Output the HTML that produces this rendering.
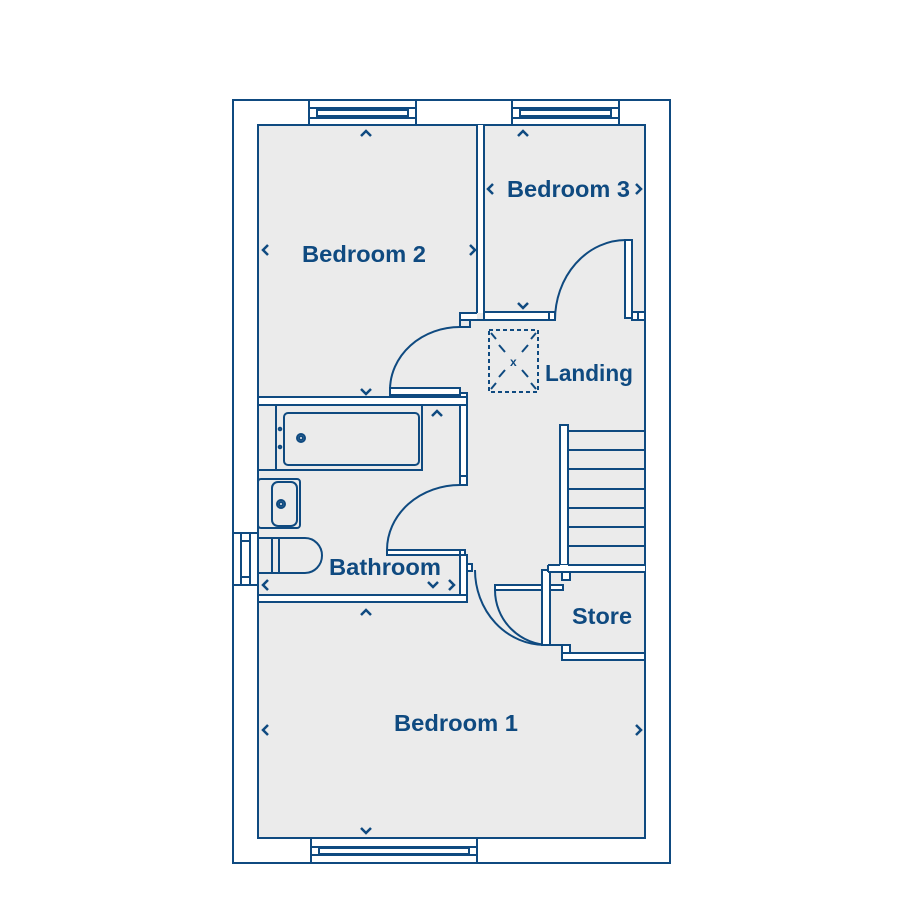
<!DOCTYPE html>
<html><head><style>
html,body{margin:0;padding:0;background:#fff;}
svg{display:block;}
text{font-family:"Liberation Sans",sans-serif;font-weight:bold;fill:#0f4a80;}
</style></head><body>
<svg width="900" height="900" viewBox="0 0 900 900">
<g stroke="#0f4a80" stroke-width="2" fill="none">
<rect x="233" y="100" width="437" height="763" fill="#fff"/>
<rect x="258" y="125" width="387" height="713" fill="#ebebeb"/>
<rect x="309" y="100" width="107" height="25" fill="#fff"/>
<rect x="309" y="108" width="107" height="10"/>
<rect x="317" y="110" width="91" height="6"/>
<rect x="512" y="100" width="107" height="25" fill="#fff"/>
<rect x="512" y="108" width="107" height="10"/>
<rect x="520" y="110" width="91" height="6"/>
<rect x="311" y="838" width="166" height="25" fill="#fff"/>
<rect x="311" y="847" width="166" height="8"/>
<rect x="319" y="848" width="150" height="6"/>
<rect x="233" y="533" width="25" height="52" fill="#fff"/>
<rect x="241" y="533" width="9" height="52"/>
<line x1="241" y1="541" x2="250" y2="541"/><line x1="241" y1="577" x2="250" y2="577"/>
<!-- bed2/bed3 wall -->
<rect x="477" y="125" width="7" height="188" fill="#fff" stroke="none"/>
<line x1="477" y1="125" x2="477" y2="313"/><line x1="484" y1="125" x2="484" y2="312"/>
<rect x="460" y="313" width="17" height="7" fill="#fff" stroke="none"/>
<path d="M477 313 H460 V327 H470 V320 H484"/>
<line x1="460" y1="320" x2="470" y2="320"/>
<rect x="484" y="312" width="71" height="8" fill="#fff"/>
<line x1="549" y1="312" x2="549" y2="320"/>
<path d="M555 320 A71 80 0 0 1 626 240"/>
<rect x="625" y="240" width="7" height="78" fill="#fff"/>
<rect x="632" y="312" width="13" height="8" fill="#fff"/>
<line x1="638" y1="312" x2="638" y2="320"/>
<path d="M390 390 A70 63 0 0 1 460 327"/>
<rect x="390" y="388" width="70" height="7" fill="#fff"/>
<rect x="258" y="397" width="209" height="8" fill="#fff"/>
<rect x="460" y="393" width="7" height="4" fill="#fff"/>
<rect x="460" y="405" width="7" height="80" fill="#fff"/>
<line x1="460" y1="476" x2="467" y2="476"/>
<rect x="258" y="405" width="164" height="65"/>
<line x1="276" y1="405" x2="276" y2="470"/>
<rect x="284" y="413" width="135" height="52" rx="4"/>
<circle cx="301" cy="438" r="4"/><circle cx="301" cy="438" r="2"/>
<circle cx="280" cy="429" r="1.3"/><circle cx="280" cy="447" r="1.3"/>
<rect x="258" y="479" width="42" height="49" rx="3"/>
<rect x="272" y="482" width="25" height="44" rx="6"/>
<circle cx="281" cy="504" r="4"/><circle cx="281" cy="504" r="2"/>
<path d="M258 538 H272 V573 H258"/>
<rect x="272" y="538" width="7" height="35"/>
<path d="M279 538 H305 A17 17.5 0 0 1 305 573 H279"/>
<path d="M387 550 A73 65 0 0 1 460 485"/>
<rect x="387" y="550" width="73" height="5" fill="#fff"/>
<rect x="460" y="555" width="7" height="47" fill="#fff"/>
<rect x="460" y="550" width="5" height="5" fill="#fff"/>
<rect x="467" y="564" width="5" height="7" fill="#fff"/>
<rect x="258" y="595" width="209" height="7" fill="#fff"/>
<path d="M475 570 A70 75 0 0 0 545 645"/>
<path d="M495 590 A55 55 0 0 0 550 645 H563"/>
<rect x="495" y="585" width="68" height="5" fill="#fff"/>
<rect x="542" y="570" width="8" height="75" fill="#fff"/>
<rect x="560" y="425" width="8" height="140" fill="#fff"/>
<path d="M568 431 H645 M568 450 H645 M568 469 H645 M568 489 H645 M568 508 H645 M568 527 H645 M568 546 H645"/>
<rect x="548" y="565" width="97" height="7" fill="#fff" stroke="none"/>
<path d="M548 565 H560 M568 565 H645 M548 572 H645 M548 565 V572"/>
<rect x="562" y="572" width="8" height="8" fill="#fff"/>
<rect x="562" y="645" width="8" height="8" fill="#fff"/>
<rect x="562" y="653" width="83" height="7" fill="#fff"/>
<rect x="489" y="330" width="49" height="62" stroke-dasharray="4 3"/>
<path d="M491 333 L496 339 M499 345 L505 352 M536 333 L531 339 M528 345 L522 352 M491 389 L496 383 M499 377 L505 370 M536 389 L531 383 M528 377 L522 370" />
</g>
<text x="510" y="366" font-size="12">x</text>
<g stroke="#0f4a80" stroke-width="2.5" fill="none">
<polyline points="361,136 366,131 371,136"/>
<polyline points="518,136 523,131 528,136"/>
<polyline points="268,245 263,250 268,255"/>
<polyline points="470,245 475,250 470,255"/>
<polyline points="493,184 488,189 493,194"/>
<polyline points="636,184 641,189 636,194"/>
<polyline points="518,303 523,308 528,303"/>
<polyline points="361,389 366,394 371,389"/>
<polyline points="432,416 437,411 442,416"/>
<polyline points="268,580 263,585 268,590"/>
<polyline points="428,582 433,587 438,582"/>
<polyline points="449,580 454,585 449,590"/>
<polyline points="361,615 366,610 371,615"/>
<polyline points="268,725 263,730 268,735"/>
<polyline points="636,725 641,730 636,735"/>
<polyline points="361,828 366,833 371,828"/>
</g>
<text x="302" y="262" font-size="23" textLength="124" lengthAdjust="spacingAndGlyphs">Bedroom 2</text>
<text x="507" y="197" font-size="23" textLength="123" lengthAdjust="spacingAndGlyphs">Bedroom 3</text>
<text x="545" y="381" font-size="23" textLength="88" lengthAdjust="spacingAndGlyphs">Landing</text>
<text x="329" y="575" font-size="23" textLength="112" lengthAdjust="spacingAndGlyphs">Bathroom</text>
<text x="572" y="624" font-size="23" textLength="60" lengthAdjust="spacingAndGlyphs">Store</text>
<text x="394" y="731" font-size="23" textLength="124" lengthAdjust="spacingAndGlyphs">Bedroom 1</text>
</svg>
</body></html>
